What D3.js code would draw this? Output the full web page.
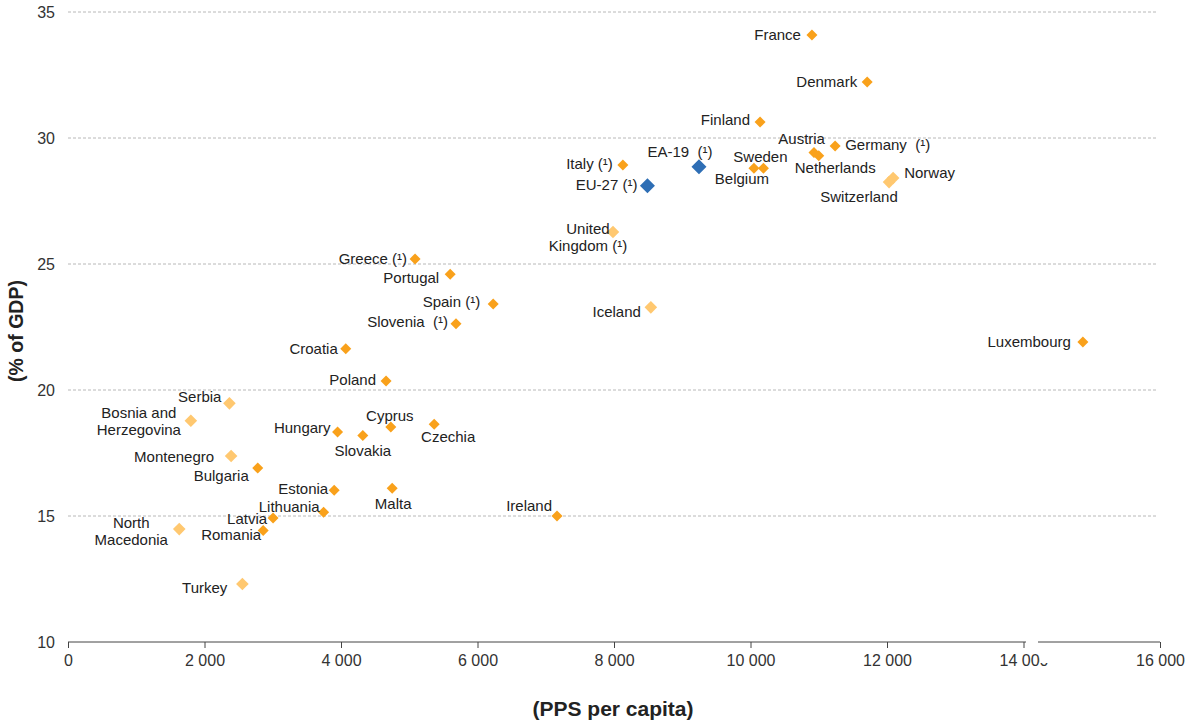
<!DOCTYPE html>
<html><head><meta charset="utf-8">
<script src="https://cdn.jsdelivr.net/npm/d3@7"></script>
<style>
body{margin:0;background:#fff;}
svg text{font-family:"Liberation Sans",Arial,sans-serif;white-space:pre;}
</style></head>
<body><svg id="chart" width="1187" height="722"></svg>
<script>
const countries = ["EU-27","EA-19","France","Denmark","Finland","Austria","Netherlands","Germany","Norway","Switzerland","Sweden","Belgium","Italy","United Kingdom","Greece","Portugal","Spain","Slovenia","Croatia","Iceland","Luxembourg","Ireland","Poland","Serbia","Bosnia and Herzegovina","Montenegro","Bulgaria","Hungary","Slovakia","Cyprus","Czechia","Estonia","Malta","Lithuania","Latvia","Romania","North Macedonia","Turkey"];
const labels = ["EU-27 (¹)","EA-19  (¹)","France","Denmark","Finland","Austria","Netherlands","Germany  (¹)","Norway","Switzerland","Sweden","Belgium","Italy (¹)","United\nKingdom (¹)","Greece (¹)","Portugal","Spain (¹)","Slovenia  (¹)","Croatia","Iceland","Luxembourg","Ireland","Poland","Serbia","Bosnia and\nHerzegovina","Montenegro","Bulgaria","Hungary","Slovakia","Cyprus","Czechia","Estonia","Malta","Lithuania","Latvia","Romania","North\nMacedonia","Turkey"];
const ppsPerCapita = [8490,9245,10900,11710,10140,10930,11000,11240,12090,12030,10190,10050,8130,7985,5085,5600,6230,5685,4070,8540,14870,7165,4660,2365,1800,2390,2780,3950,4320,4730,5365,3900,4750,3745,3005,2860,1630,2555];
const pctGDP = [28.11,28.86,34.09,32.22,30.63,29.42,29.30,29.68,28.41,28.25,28.80,28.80,28.93,26.27,25.20,24.59,23.41,22.63,21.64,23.28,21.90,15.00,20.36,19.47,18.78,17.38,16.90,18.33,18.19,18.53,18.64,16.02,16.10,15.15,14.92,14.42,14.48,12.30];
const groups = ["agg","agg","eu","eu","eu","eu","eu","eu","non","non","eu","eu","eu","non","eu","eu","eu","eu","eu","non","eu","eu","eu","non","non","non","eu","eu","eu","eu","eu","eu","eu","eu","eu","eu","non","non"];
const xTicks = [0,2000,4000,6000,8000,10000,12000,14000,16000];
const yTicks = [10,15,20,25,30,35];

// label placement (style): [dx, dy, anchor]
const labelPos = {
 "France":[-11,0,"end"],"Denmark":[-10,0,"end"],"Finland":[-10,-2,"end"],
 "Austria":[11,-14,"end"],"Germany":[10,-1,"start"],"Netherlands":[-24,12,"start"],
 "Norway":[11,-5,"start"],"Switzerland":[-30,15,"middle"],"Sweden":[-3,-11,"middle"],
 "Belgium":[-12,11,"middle"],"EA-19":[-19,-15,"middle"],"EU-27":[-10,-1,"end"],
 "Italy":[-10,-1,"end"],"United Kingdom":[-25,5.5,"middle"],"Greece":[-8,0,"end"],
 "Portugal":[-11,3,"end"],"Spain":[-13,-2,"end"],"Slovenia":[-8,-2,"end"],
 "Croatia":[-8,0,"end"],"Iceland":[-10,4,"end"],"Luxembourg":[-12,0,"end"],
 "Ireland":[-5,-10,"end"],"Poland":[-10,-1,"end"],"Serbia":[-8,-7,"end"],
 "Bosnia and Herzegovina":[-52,0.5,"middle"],"Montenegro":[-17,1,"end"],
 "Bulgaria":[-9,8,"end"],"Hungary":[-7,-4,"end"],"Slovakia":[0,15,"middle"],
 "Cyprus":[-1,-11,"middle"],"Czechia":[14,12,"middle"],"Estonia":[-6,-2,"end"],
 "Malta":[1,15,"middle"],"Lithuania":[-4,-5,"end"],"Latvia":[-6,1,"end"],
 "Romania":[-2,4,"end"],"North Macedonia":[-48,2,"middle"],"Turkey":[-15,4,"end"]
};
const colors = {agg:"#2E6EB5", eu:"#F9A11B", non:"#FFC870"};
const sizes = {agg:7.5, eu:5.5, non:6.3};

const svg = d3.select("#chart");
const x = d3.scaleLinear().domain([0,16000]).range([68,1160]);
const y = d3.scaleLinear().domain([10,35]).range([642,12]);

// gridlines
svg.append("g").selectAll("line").data(yTicks.filter(d=>d>10)).join("line")
  .attr("x1",68).attr("x2",1158).attr("y1",d=>y(d)).attr("y2",d=>y(d))
  .attr("stroke","#b8b8b8").attr("stroke-width",1).attr("stroke-dasharray","3,2");

// y tick labels
svg.append("g").selectAll("text").data(yTicks).join("text")
  .attr("x",55).attr("y",d=>y(d)).attr("dy","0.35em").attr("text-anchor","end")
  .attr("font-size",16).attr("fill","#333").text(d=>d);

// x axis
const xAxis = d3.axisBottom(x).tickValues(xTicks).tickSize(6)
  .tickFormat(d=>d3.format(",")(d).replace(/,/g," "));
const gx = svg.append("g").attr("transform","translate(0,642)").call(xAxis);
gx.select(".domain").attr("stroke","#444").attr("d","M68,0H1160");
gx.selectAll(".tick line").attr("stroke","#444").attr("y1",0).attr("y2",6);
gx.selectAll(".tick text").attr("font-size",16).attr("fill","#333").attr("y",13)
  .attr("font-family","Liberation Sans, Arial, sans-serif");

// axis break
svg.append("rect").attr("x",1026).attr("y",636).attr("width",12).attr("height",14).attr("fill","#fff");
svg.append("rect").attr("x",1040).attr("y",652).attr("width",14).attr("height",11).attr("fill","#fff");

// axis titles
svg.append("text").attr("transform","translate(16,331) rotate(-90)").attr("text-anchor","middle")
  .attr("dy","0.35em").attr("font-size",19.5).attr("font-weight","bold").attr("fill","#222").text("(% of GDP)");
svg.append("text").attr("x",613).attr("y",709).attr("text-anchor","middle").attr("dy","0.35em")
  .attr("font-size",21).attr("font-weight","bold").attr("fill","#222").text("(PPS per capita)");

const data = countries.map((c,i)=>({name:c,label:labels[i],x:ppsPerCapita[i],y:pctGDP[i],g:groups[i]}));
const diamond = r => `M0,${-r}L${r},0L0,${r}L${-r},0Z`;

// points (draw aggregates last)
const order = data.slice().sort((a,b)=>(a.g==="agg")-(b.g==="agg"));
svg.append("g").selectAll("path").data(order).join("path")
  .attr("transform",d=>`translate(${x(d.x)},${y(d.y)})`)
  .attr("d",d=>diamond(sizes[d.g])).attr("fill",d=>colors[d.g]);

// labels
const lg = svg.append("g");
data.forEach(d=>{
  const p = labelPos[d.name];
  const lines = d.label.split("\n");
  const t = lg.append("text").attr("text-anchor",p[2]).attr("font-size",15).attr("fill","#222");
  const lh = 17;
  const y0 = y(d.y)+p[1]-(lines.length-1)*lh/2;
  lines.forEach((ln,k)=>{
    t.append("tspan").attr("x",x(d.x)+p[0]).attr("y",y0+k*lh).attr("dy","0.35em").text(ln);
  });
});
</script></body></html>
